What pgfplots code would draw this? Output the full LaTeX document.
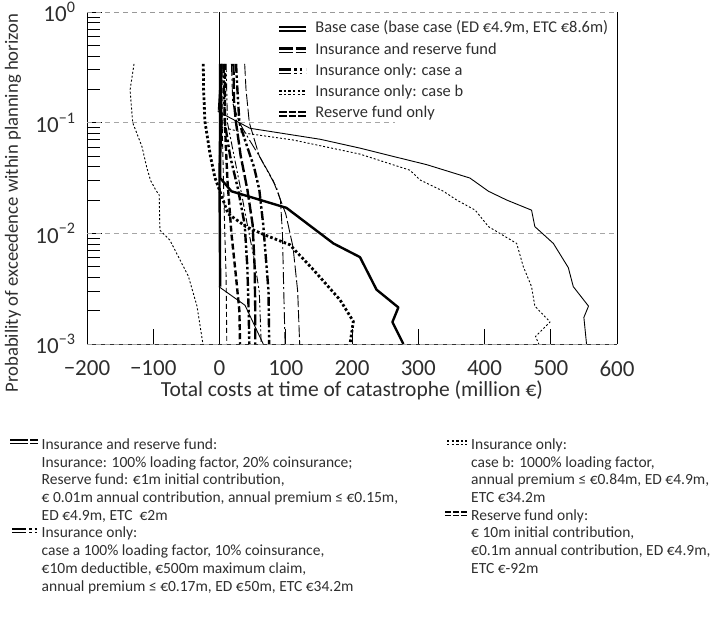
\documentclass[border=0pt]{standalone}
\usepackage{pgfplots}
\pgfplotsset{compat=1.18}
\usepackage{fontspec}
\setmainfont{Carlito}
\colorlet{txt}{black!82}

% line styles: thick and thin member of each scenario
\tikzset{
  thickline/.style={line width=2.4pt, line join=round},
  thinline/.style={line width=0.9pt, line join=round},
  longdashA/.style={dash pattern=on 11pt off 3pt},
  longdashB/.style={dash pattern=on 12pt off 3pt},
  dddA/.style={dash pattern=on 9pt off 2.5pt on 2.5pt off 2.5pt on 2.5pt off 2.5pt},
  ddB/.style={dash pattern=on 12pt off 3pt on 2pt off 3pt},
  dddB/.style={dash pattern=on 8pt off 2.5pt on 2pt off 2.5pt on 2pt off 2.5pt},
  dotA/.style={dash pattern=on 2.6pt off 2.2pt},
  dotB/.style={dash pattern=on 2pt off 2pt},
  dashA/.style={dash pattern=on 6pt off 3pt},
  dashB/.style={dash pattern=on 5pt off 3pt},
}

% two-line key: thick line on top, thin line below (all lengths in pt)
\newcommand{\dblkey}[4]{% x, y, width, pattern style
  \draw[line width=2.4pt,#4] (#1pt,#2pt+1.9pt) -- ++(#3pt,0pt);
  \draw[line width=1.1pt,#4] (#1pt,#2pt-1.9pt) -- ++(#3pt,0pt);
}

\begin{document}
\begin{tikzpicture}[x=1pt,y=1pt]
\path[use as bounding box] (0,0) rectangle (719,-618);
\begin{axis}[
  at={(87pt,-344pt)}, anchor=south west,
  scale only axis, width=530pt, height=332pt,
  xmin=-200, xmax=600, ymin=1e-3, ymax=1, ymode=log,
  clip=false,
  axis line style={draw=none},
  tick align=inside, tick pos=left,
  major tick length=15pt, minor tick length=13pt,
  tick style={black, line width=0.8pt},
  xtick={-200,-100,0,100,200,300,400,500,600},
  xticklabels={−200,−100,0,100,200,300,400,500,600},
  ytick={1e-3,1e-2,1e-1,1},
  yticklabels={10\textsuperscript{−3},10\textsuperscript{−2},10\textsuperscript{−1},10\textsuperscript{0}},
  minor ytick={2e-3,3e-3,4e-3,5e-3,6e-3,7e-3,8e-3,9e-3,2e-2,3e-2,4e-2,5e-2,6e-2,7e-2,8e-2,9e-2,0.2,0.3,0.4,0.5,0.6,0.7,0.8,0.9},
  xticklabel style={font=\fontsize{23}{23}\selectfont, text=txt, inner sep=0pt, yshift=-16.5pt},
  yticklabel style={font=\fontsize{23}{23}\selectfont, text=txt, xshift=-8pt},
  legend style={draw=none, fill=none, at={(0.360,0.974)}, anchor=north west,
    font=\fontsize{16.4}{19}\selectfont, text=txt, row sep=4.75pt, inner sep=0pt,
    nodes={inner sep=0pt, text height=12pt, text depth=4.5pt},
    /tikz/every odd column/.style={column sep=8pt}},
  legend cell align=left,
]
% grid and frame
\draw[black, line width=0.9pt] (rel axis cs:0,0) -- (rel axis cs:0,1);
\draw[black, line width=0.9pt] (rel axis cs:1,0) -- (rel axis cs:1,1);
\draw[black!80, line width=1pt] (rel axis cs:0,0) -- (rel axis cs:1,0);
\draw[gray!70, line width=0.9pt, dash pattern=on 5pt off 4pt] (axis cs:-200,1e-3) -- (axis cs:600,1e-3);
\draw[gray!80, line width=0.9pt, dash pattern=on 5pt off 4pt] (axis cs:-200,1) -- (axis cs:600,1);
\draw[gray!70, line width=0.9pt, dash pattern=on 5pt off 4pt] (axis cs:-200,1e-1) -- (axis cs:265,1e-1);
\draw[gray!70, line width=0.9pt, dash pattern=on 5pt off 4pt] (axis cs:-200,1e-2) -- (axis cs:600,1e-2);
\draw[black, line width=0.7pt] (axis cs:0,1e-3) -- (axis cs:0,1);

% Base case
\addplot[thickline, forget plot] coordinates {(3,0.34) (2,0.2) (3,0.1) (1,0.05) (1,0.0316) (18,0.024) (101,0.017) (172,0.0081) (212,0.0061) (237,0.0031) (270,0.00214) (261,0.00158) (277.5,0.001)};
\addplot[thinline, forget plot] coordinates {(0,0.34) (0,0.2) (-2,0.126) (46,0.089) (152,0.0708) (212,0.0589) (252,0.0513) (313,0.0417) (378,0.0316) (406,0.024) (433.5,0.02) (471,0.0162) (476,0.0115) (504,0.0081) (526.5,0.0049) (534,0.0033) (557,0.0022) (550,0.00174) (554,0.001)};
\addplot[thickline, forget plot] coordinates {(1,0.34) (1,0.1) (0,0.03) (1,0.0033)};
\addplot[thinline, forget plot] coordinates {(-1,0.0033) (38.5,0.00224) (66,0.001)};

% Insurance and reserve fund
\addplot[thickline, longdashA, forget plot] coordinates {(21,0.34) (22,0.15) (25,0.1) (32,0.05) (42,0.025) (50,0.012) (53,0.005) (54,0.002) (54,0.001)};
\addplot[thinline, longdashB, forget plot] coordinates {(38,0.34) (40,0.2) (45,0.1) (60,0.05) (81,0.03) (100,0.015) (111,0.0075) (118,0.003) (121,0.001)};

% Insurance only: case a
\addplot[thickline, dddA, forget plot] coordinates {(25,0.34) (27,0.2) (30,0.1) (42,0.06) (52,0.04) (60,0.025) (66,0.012) (70,0.006) (74,0.003) (75,0.001)};
\addplot[thinline, ddB, forget plot] coordinates {(18,0.34) (20,0.15) (30,0.1) (45,0.07) (60,0.05) (86,0.026) (92,0.02) (95,0.01) (97,0.003) (99,0.001)};
\addplot[thickline, dddA, forget plot] coordinates {(6,0.34) (8,0.1) (16,0.05) (28,0.025) (38,0.012) (42,0.005) (44,0.002) (45,0.001)};
\addplot[thinline, dddB, forget plot] coordinates {(10,0.34) (12,0.1) (22,0.05) (32,0.025) (42,0.012) (52,0.006) (60,0.003) (63,0.001)};

% Insurance only: case b
\addplot[line width=2.8pt, dotA, forget plot] coordinates {(-24.5,0.34) (-24,0.2) (-22,0.102) (-14,0.051) (-7,0.032) (13,0.015) (40,0.0115) (66,0.0098) (106,0.0079) (141.6,0.0047) (182,0.0025) (202,0.0016) (197,0.001)};
\addplot[thinline, dotB, forget plot] coordinates {(3,0.34) (2,0.2) (0.75,0.092) (41,0.080) (111,0.0698) (212,0.052) (287.5,0.0372) (303,0.0303) (338,0.024) (358,0.0200) (386,0.0162) (406,0.0115) (448.6,0.0081) (458.6,0.005) (471,0.0033) (476,0.0022) (499,0.00158) (477,0.00117) (482,0.001)};

% Reserve fund only
\addplot[thickline, dashA, forget plot] coordinates {(8,0.34) (8,0.1) (12,0.03) (18,0.01) (25,0.004) (30,0.002) (31,0.001)};
\addplot[thinline, dashB, forget plot] coordinates {(4,0.34) (4,0.1) (6,0.03) (8,0.01) (10,0.004) (11,0.001)};
\addplot[thinline, dotB, forget plot] coordinates {(-129,0.34) (-135,0.197) (-131,0.1) (-117,0.0607) (-110,0.0398) (-104,0.030) (-96,0.0245) (-91,0.0222) (-90,0.0107) (-75,0.0087) (-47,0.0041) (-34,0.0022) (-25,0.001)};

% legend keys
\addlegendimage{legend image code/.code={\dblkey{0}{0}{27}{}}}
\addlegendentry{Base case (base case (ED €4.9m, ETC €8.6m)}
\addlegendimage{legend image code/.code={\dblkey{0}{0}{27}{dash pattern=on 14pt off 2.5pt on 10.5pt}}}
\addlegendentry{Insurance and reserve fund}
\addlegendimage{legend image code/.code={\dblkey{0}{0}{27}{dash pattern=on 12pt off 3pt on 2.5pt off 3pt on 2.5pt off 4pt}}}
\addlegendentry{Insurance only: case a}
\addlegendimage{legend image code/.code={\dblkey{0}{0}{27}{dash pattern=on 2.3pt off 2.3pt}}}
\addlegendentry{Insurance only: case b}
\addlegendimage{legend image code/.code={\dblkey{0}{0}{27}{dash pattern=on 7.5pt off 2pt}}}
\addlegendentry{Reserve fund only}
\end{axis}

% axis titles
\node[rotate=90, text=txt, font=\fontsize{18.7}{18}\selectfont] at (13,-203) {Probability of exceedence within planning horizon};
\node[anchor=base, inner sep=0pt, text=txt, font=\fontsize{21.5}{21}\selectfont] at (352,-396) {Total costs at time of catastrophe (million €)};

% notes below the chart
\begin{scope}[every node/.style={anchor=base west, inner sep=0pt, text=txt, font=\fontsize{15.5}{18}\selectfont}]
\node at (41.5,-449) {Insurance and reserve fund:};
\node at (41.5,-467) {Insurance: 100\% loading factor, 20\% coinsurance;};
\node at (41.5,-484) {Reserve fund: €1m initial contribution,};
\node at (41.5,-502) {€ 0.01m annual contribution, annual premium ≤ €0.15m,};
\node at (41.5,-520) {ED €4.9m, ETC~ €2m};
\node at (41.5,-537.5) {Insurance only:};
\node at (41.5,-555.5) {case a 100\% loading factor, 10\% coinsurance,};
\node at (41.5,-573.5) {€10m deductible, €500m maximum claim,};
\node at (41.5,-591.5) {annual premium ≤ €0.17m, ED €50m, ETC €34.2m};

\node at (471,-449) {Insurance only:};
\node at (471,-467) {case b: 1000\% loading factor,};
\node at (471,-484) {annual premium ≤ €0.84m, ED €4.9m,};
\node at (471,-502) {ETC €34.2m};
\node at (471,-520) {Reserve fund only:};
\node at (471,-537.5) {€ 10m initial contribution,};
\node at (471,-555.5) {€0.1m annual contribution, ED €4.9m,};
\node at (471,-573.5) {ETC €-92m};
\end{scope}
\dblkey{10}{-442}{28}{dash pattern=on 18pt off 2pt on 8pt}
\dblkey{12}{-531}{26}{dash pattern=on 14pt off 3pt on 2.5pt off 3pt on 2.5pt off 4pt}
\dblkey{447}{-443}{20}{dash pattern=on 2.3pt off 2.3pt}
\dblkey{445}{-514}{22}{dash pattern=on 6pt off 2pt}
\end{tikzpicture}
\end{document}
